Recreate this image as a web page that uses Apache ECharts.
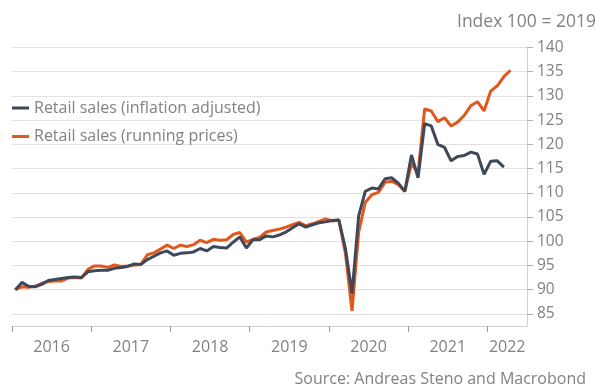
<!DOCTYPE html>
<html><head><meta charset="utf-8">
<script src="https://cdn.jsdelivr.net/npm/echarts@6/dist/echarts.min.js"></script>
<style>html,body{margin:0;padding:0;background:#fff}#c{width:596px;height:389px}</style>
</head><body><div id="c"></div>
<script>
// Monthly data, starting January 2016
const startYear = 2016;
const years = ['2016', '2017', '2018', '2019', '2020', '2021', '2022'];
const yTicks = [85, 90, 95, 100, 105, 110, 115, 120, 125, 130, 135, 140];
const seriesNames = ['Retail sales (inflation adjusted)', 'Retail sales (running prices)'];

const realSales = [
  90.0, 91.5, 90.7, 90.6, 91.1, 91.9, 92.1, 92.3, 92.5, 92.6, 92.5, 93.7,
  93.9, 94.0, 94.0, 94.4, 94.6, 94.8, 95.3, 95.2, 96.2, 96.9, 97.6, 98.0,
  97.1, 97.5, 97.6, 97.8, 98.5, 98.0, 98.9, 98.7, 98.6, 99.8, 100.9, 98.6,
  100.3, 100.3, 101.1, 100.9, 101.3, 101.9, 102.8, 103.6, 102.9, 103.4, 103.8, 104.0,
  104.3, 104.4, 98.5, 89.2, 105.2, 110.3, 111.0, 110.8, 112.9, 113.1, 112.0, 110.3,
  117.8, 113.1, 124.3, 123.8, 120.0, 119.4, 116.6, 117.5, 117.7, 118.4, 118.0, 113.8,
  116.5, 116.6, 115.3
];
const nominalSales = [
  90.0, 90.6, 90.5, 90.7, 91.3, 91.7, 91.8, 91.8, 92.4, 92.5, 92.4, 94.2,
  94.9, 94.9, 94.6, 95.1, 94.8, 94.9, 95.1, 95.2, 97.2, 97.6, 98.4, 99.2,
  98.5, 99.2, 98.9, 99.3, 100.2, 99.7, 100.4, 100.2, 100.3, 101.4, 101.8, 99.8,
  100.4, 100.8, 101.9, 102.2, 102.5, 102.9, 103.4, 103.9, 103.2, 103.6, 104.1, 104.6,
  104.2, 104.4, 97.5, 85.6, 101.8, 108.0, 109.6, 110.1, 112.2, 112.4, 111.7, 110.3,
  116.0, 114.1, 127.3, 126.9, 124.7, 125.5, 123.8, 124.6, 126.0, 128.0, 128.8, 126.9,
  131.0, 132.1, 134.0, 135.3
];

// month index -> mid-month position in fractional years
const toPoints = arr => arr.map((v, i) => [startYear + (i + 0.5) / 12, v]);

const xMin = 2016, xMax = 2022.5;
const yearTicks = years.map(Number);
const yearLabelPos = yearTicks.map(y => (y + Math.min(y + 1, xMax)) / 2);

const font = 'Open Sans';
const grey = '#828282';

const chart = echarts.init(document.getElementById('c'));
chart.setOption({
  animation: false,
  textStyle: { fontFamily: font },
  title: [
    { text: 'Index 100 = 2019', left: 452, top: 8,
      textStyle: { fontSize: 17.5, fontWeight: 'normal', color: grey, fontFamily: font } },
    { text: 'Source: Andreas Steno and Macrobond', right: 5, top: 366,
      textStyle: { fontSize: 16, fontWeight: 'normal', color: grey, fontFamily: font } }
  ],
  legend: {
    orient: 'vertical', left: 7, top: 95, itemGap: 12.5,
    icon: 'rect', itemWidth: 17, itemHeight: 3,
    textStyle: { fontSize: 16, color: grey, fontFamily: font },
    data: seriesNames
  },
  grid: { left: 12, right: 69, top: 47.5, bottom: 63, containLabel: false },
  xAxis: {
    type: 'value', min: xMin, max: xMax,
    axisLine: { show: true, lineStyle: { color: '#d0d0d0', width: 1 } },
    axisTick: { show: true, length: 6, customValues: yearTicks, lineStyle: { color: '#9a9a9a' } },
    axisLabel: { customValues: yearLabelPos, margin: 13, fontSize: 16, color: grey, fontFamily: font,
      formatter: v => String(Math.floor(v)) },
    splitLine: { show: false }
  },
  yAxis: {
    type: 'value', position: 'right', min: 82.5, max: 140,
    axisLine: { show: true, lineStyle: { color: '#d0d0d0', width: 1 } },
    axisTick: { show: true, length: 6, customValues: yTicks, lineStyle: { color: '#b0b0b0' } },
    axisLabel: { customValues: yTicks, margin: 10, fontSize: 15.5, color: grey, fontFamily: font },
    splitLine: { show: true, lineStyle: { color: '#e2e2e2', width: 1 } }
  },
  series: [
    { name: seriesNames[0], type: 'line', data: toPoints(realSales), symbol: 'none', z: 3,
      itemStyle: { color: '#3e4859' }, lineStyle: { color: '#3e4859', width: 3 } },
    { name: seriesNames[1], type: 'line', data: toPoints(nominalSales), symbol: 'none', z: 2,
      itemStyle: { color: '#e2571c' }, lineStyle: { color: '#e2571c', width: 3 } }
  ]
});
</script></body></html>
